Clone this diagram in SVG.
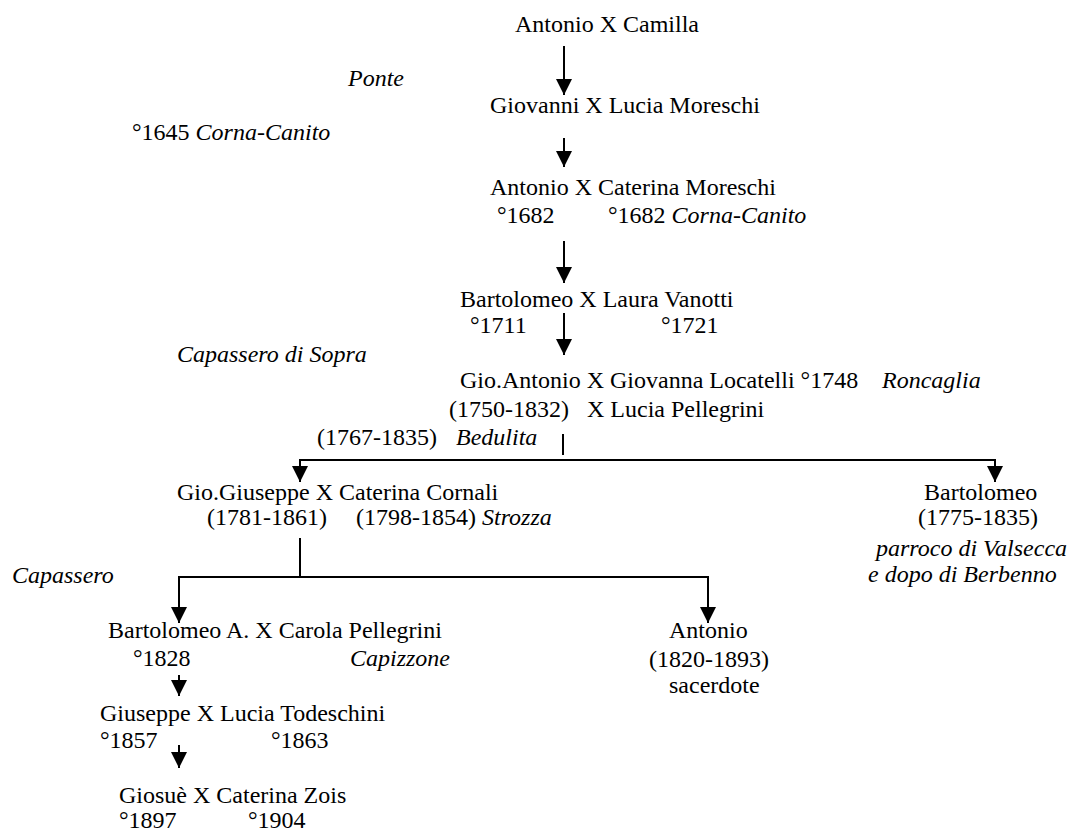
<svg xmlns="http://www.w3.org/2000/svg" width="1073" height="832" viewBox="0 0 1073 832">
  <style>
    text { font-family: "Liberation Serif", "Times New Roman", serif; font-size: 24px; fill: #000; }
    .it { font-style: italic; }
    .wire { fill: none; stroke: #000; stroke-width: 2; }
    .arrow { fill: none; stroke: #000; stroke-width: 2; marker-end: url(#head); }
  </style>
  <defs>
    <marker id="head" markerUnits="userSpaceOnUse" markerWidth="17" markerHeight="17" viewBox="0 0 17 17" refX="16" refY="8.5" orient="auto">
      <path d="M0,0.5 L16,8.5 L0,16.5 Z" fill="#000"/>
    </marker>
  </defs>
  <rect width="1073" height="832" fill="#fff"/>

  <!-- descent lines -->
  <g id="connectors">
    <line class="arrow" x1="564" y1="46" x2="564" y2="95"/>
    <line class="arrow" x1="564" y1="138" x2="564" y2="167"/>
    <line class="arrow" x1="564" y1="241" x2="564" y2="283"/>
    <line class="arrow" x1="564" y1="313" x2="564" y2="355"/>
    <!-- children of Gio.Antonio: short stub above a separate bar -->
    <line class="wire" x1="563" y1="434" x2="563" y2="455"/>
    <polyline class="arrow" points="563,460 300,460 300,482"/>
    <polyline class="arrow" points="563,460 995,460 995,482"/>
    <!-- children of Gio.Giuseppe -->
    <line class="wire" x1="300" y1="538" x2="300" y2="577"/>
    <polyline class="arrow" points="300,577 179,577 179,623"/>
    <polyline class="arrow" points="300,577 708,577 708,623"/>
    <line class="arrow" x1="179" y1="675" x2="179" y2="696"/>
    <line class="arrow" x1="179" y1="745" x2="179" y2="768"/>
  </g>

  <g id="place-notes">
    <text class="it" x="348" y="86">Ponte</text>
    <text x="132" y="140">°1645 <tspan class="it">Corna-Canito</tspan></text>
    <text class="it" x="177" y="362">Capassero di Sopra</text>
    <text class="it" x="12" y="583">Capassero</text>
  </g>

  <g id="antonio-camilla">
    <text x="515" y="32">Antonio X Camilla</text>
  </g>

  <g id="giovanni-lucia">
    <text x="490" y="113">Giovanni X Lucia Moreschi</text>
  </g>

  <g id="antonio-caterina">
    <text x="490" y="195">Antonio X Caterina Moreschi</text>
    <text x="497" y="223">°1682</text>
    <text x="608" y="223">°1682 <tspan class="it">Corna-Canito</tspan></text>
  </g>

  <g id="bartolomeo-laura">
    <text x="460" y="307">Bartolomeo X Laura Vanotti</text>
    <text x="470" y="333">°1711</text>
    <text x="661" y="333">°1721</text>
  </g>

  <g id="gioantonio">
    <text x="460" y="388">Gio.Antonio X Giovanna Locatelli °1748</text>
    <text class="it" x="882" y="388">Roncaglia</text>
    <text x="449" y="417">(1750-1832)</text>
    <text x="587" y="417">X Lucia Pellegrini</text>
    <text x="317" y="445">(1767-1835)</text>
    <text class="it" x="456" y="445">Bedulita</text>
  </g>

  <g id="giogiuseppe">
    <text x="177" y="500">Gio.Giuseppe X Caterina Cornali</text>
    <text x="207" y="525">(1781-1861)</text>
    <text x="356" y="525">(1798-1854) <tspan class="it">Strozza</tspan></text>
  </g>

  <g id="bartolomeo-parroco">
    <text x="924" y="500">Bartolomeo</text>
    <text x="918" y="525">(1775-1835)</text>
    <text class="it" x="876" y="556">parroco di Valsecca</text>
    <text class="it" x="868" y="582">e dopo di Berbenno</text>
  </g>

  <g id="bartolomeo-carola">
    <text x="108" y="638">Bartolomeo A. X Carola Pellegrini</text>
    <text x="133" y="666">°1828</text>
    <text class="it" x="350" y="666">Capizzone</text>
  </g>

  <g id="antonio-sacerdote">
    <text x="669" y="638">Antonio</text>
    <text x="649" y="667">(1820-1893)</text>
    <text x="669" y="693">sacerdote</text>
  </g>

  <g id="giuseppe-lucia">
    <text x="100" y="721">Giuseppe X Lucia Todeschini</text>
    <text x="100" y="748">°1857</text>
    <text x="271" y="748">°1863</text>
  </g>

  <g id="giosue-caterina">
    <text x="119" y="803">Giosuè X Caterina Zois</text>
    <text x="119" y="828">°1897</text>
    <text x="248" y="828">°1904</text>
  </g>
</svg>
